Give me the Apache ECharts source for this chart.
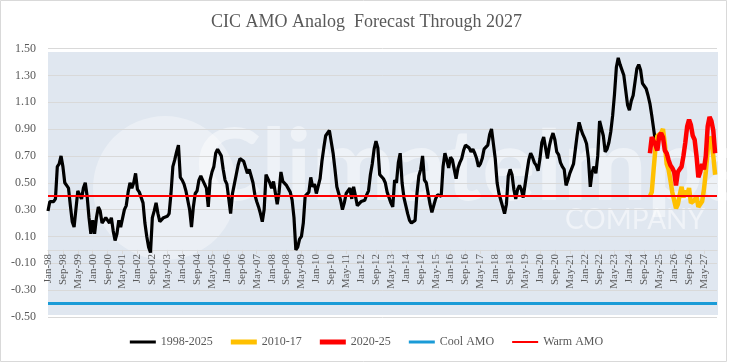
<!DOCTYPE html>
<html>
<head>
<meta charset="utf-8">
<script src="https://cdn.jsdelivr.net/npm/echarts@6/dist/echarts.min.js"></script>
<style>html,body{margin:0;padding:0;background:#fff}#c{width:733px;height:363px}</style>
</head>
<body>
<div id="c"></div>
<script>
// ---- data ----
const monthNames = ['Jan','Feb','Mar','Apr','May','Jun','Jul','Aug','Sep','Oct','Nov','Dec'];
const firstYear = 1998, lastYear = 2027;
const categories = [];
for (let y = firstYear; y <= lastYear; y++) for (let m = 0; m < 12; m++) categories.push(monthNames[m] + '-' + String(y % 100).padStart(2, '0'));

// Observed AMO, monthly from Jan-98
const amo1998_2025 = [
0.29,0.36,0.37,0.36,0.38,0.62,0.64,0.70,0.62,0.50,0.48,0.46,
0.33,0.21,0.17,0.17,0.44,0.41,0.38,0.46,0.50,0.40,0.24,0.12,
0.22,0.12,0.24,0.32,0.29,0.20,0.22,0.24,0.22,0.20,0.24,0.14,
0.07,0.12,0.22,0.17,0.18,0.30,0.33,0.43,0.50,0.46,0.50,0.57,
0.45,0.43,0.42,0.35,0.20,0.10,0.02,-0.02,0.24,0.29,0.35,0.27,
0.21,0.22,0.24,0.23,0.25,0.27,0.42,0.62,0.67,0.73,0.78,0.54,
0.52,0.49,0.44,0.37,0.30,0.17,0.32,0.42,0.44,0.52,0.55,0.52,
0.51,0.46,0.32,0.52,0.58,0.62,0.72,0.75,0.75,0.70,0.60,0.52,
0.49,0.38,0.27,0.42,0.49,0.56,0.63,0.68,0.68,0.66,0.66,0.57,
0.60,0.55,0.50,0.41,0.36,0.32,0.27,0.21,0.30,0.56,0.55,0.50,
0.46,0.51,0.52,0.34,0.43,0.58,0.51,0.51,0.48,0.48,0.43,0.37,
0.24,0.00,0.02,0.08,0.10,0.20,0.40,0.41,0.43,0.54,0.47,0.49,
0.42,0.42,0.53,0.66,0.76,0.85,0.86,0.89,0.88,0.72,0.60,0.47,
0.42,0.37,0.30,0.35,0.42,0.42,0.46,0.38,0.47,0.46,0.33,0.34,
0.36,0.35,0.37,0.41,0.44,0.56,0.64,0.75,0.81,0.76,0.56,0.55,
0.53,0.50,0.43,0.39,0.35,0.32,0.52,0.50,0.65,0.72,0.50,0.39,
0.33,0.27,0.22,0.20,0.20,0.22,0.42,0.55,0.60,0.70,0.52,0.50,
0.42,0.34,0.28,0.28,0.38,0.41,0.40,0.40,0.62,0.72,0.67,0.61,
0.69,0.67,0.60,0.53,0.61,0.65,0.68,0.74,0.78,0.77,0.76,0.73,
0.75,0.72,0.68,0.62,0.64,0.68,0.75,0.76,0.78,0.86,0.90,0.90,
0.68,0.50,0.42,0.37,0.32,0.27,0.34,0.55,0.60,0.56,0.45,0.38,
0.45,0.48,0.45,0.39,0.38,0.58,0.67,0.72,0.69,0.65,0.63,0.59,
0.68,0.80,0.84,0.85,0.68,0.77,0.83,0.87,0.82,0.73,0.71,0.65,
0.62,0.60,0.48,0.52,0.57,0.58,0.64,0.75,0.86,0.95,0.90,0.86,
0.83,0.79,0.68,0.47,0.58,0.62,0.57,0.70,0.96,0.95,0.85,0.73,
0.75,0.80,0.88,1.00,1.16,1.36,1.43,1.38,1.39,1.30,1.19,1.08,
1.04,1.11,1.15,1.16,1.35,1.38,1.34,1.24,1.24,1.20,1.15,1.09,
1.00,0.90,0.80
];

// Analog forecasts, monthly from Dec-24 through Dec-27
const forecastStart = 'Dec-24';
const analog2010_17 = [
0.40,0.43,0.60,0.76,0.85,0.84,0.87,0.90,0.79,0.64,0.60,0.52,
0.43,0.37,0.31,0.34,0.41,0.47,0.39,0.44,0.41,0.46,0.35,0.34,
0.37,0.40,0.32,0.32,0.36,0.45,0.58,0.74,0.84,0.82,0.70,0.56
];
const analog2020_25 = [
0.72,0.84,0.85,0.78,0.74,0.85,0.87,0.84,0.74,0.72,0.67,0.63,
0.61,0.58,0.48,0.58,0.60,0.62,0.70,0.80,0.92,0.97,0.93,0.85,
0.82,0.70,0.54,0.58,0.64,0.60,0.70,0.92,0.99,0.96,0.89,0.72
];

const coolAMO = -0.40;
const warmAMO = 0.40;

const yTicks = { min: -0.5, max: 1.5, step: 0.2 };

// ---- build ----
function pad(arr, startIdx) {
  const out = new Array(categories.length).fill(null);
  arr.forEach((v, k) => { out[startIdx + k] = v; });
  return out;
}
const fStart = categories.indexOf(forecastStart);
const serif = '"Liberation Serif", "Times New Roman", serif';
const grey = '#595959';

const gridTop = 48.5, gridBottom = 46, H = 363;
const gridH = H - gridTop - gridBottom;
// place the category axis where the value axis crosses zero
const zeroOffset = -gridH * (0 - yTicks.min) / (yTicks.max - yTicks.min);

const chart = echarts.init(document.getElementById('c'), null, { renderer: 'canvas' });
chart.setOption({
  animation: false,
  backgroundColor: '#fff',
  title: {
    text: 'CIC AMO Analog  Forecast Through 2027',
    left: 'center', top: 8,
    textStyle: { fontFamily: serif, fontSize: 18, fontWeight: 'normal', color: grey }
  },
  graphic: [
    { type: 'rect', z: -10, silent: true, shape: { x: 0.5, y: 0.5, width: 726, height: 361 },
      style: { fill: 'none', stroke: '#d9d9d9', lineWidth: 1 } },
    { type: 'rect', z: -9, silent: true, shape: { x: 48, y: 52, width: 670, height: 263 },
      style: { fill: '#e0e7f0' } },
    { type: 'circle', z: -8, silent: true, shape: { cx: 165, cy: 188, r: 72 },
      style: { fill: 'rgba(255,255,255,0.35)' } },
    { type: 'text', z: -8, silent: true, left: 195, top: 118,
      style: { text: 'ClimateImpact', fontFamily: 'Lato, sans-serif', fontSize: 100, fontWeight: 'bold', fill: 'rgba(255,255,255,0.45)' } },
    { type: 'text', z: -8, silent: true, left: 565, top: 206,
      style: { text: 'COMPANY', fontFamily: 'Lato, sans-serif', fontSize: 28, fill: 'rgba(255,255,255,0.5)' } }
  ],
  legend: {
    bottom: 10, left: 'center',
    itemWidth: 26, itemHeight: 12, itemGap: 18,
    textStyle: { fontFamily: serif, fontSize: 12, color: grey },
    data: [
      { name: '1998-2025', icon: 'path://M0,0h26v3h-26z' },
      { name: '2010-17', icon: 'path://M0,0h26v5h-26z' },
      { name: '2020-25', icon: 'path://M0,0h26v5h-26z' },
      { name: 'Cool AMO', icon: 'path://M0,0h26v3h-26z' },
      { name: 'Warm AMO', icon: 'path://M0,0h26v2h-26z' }
    ]
  },
  grid: { left: 48, right: 16, top: gridTop, bottom: gridBottom, containLabel: false },
  xAxis: {
    type: 'category', data: categories, boundaryGap: false, offset: zeroOffset,
    axisLine: { onZero: false, lineStyle: { color: '#d9d9d9', width: 1 } },
    axisTick: { show: true, interval: 7, length: 4, lineStyle: { color: '#d9d9d9' } },
    axisLabel: { interval: 7, rotate: 90, fontFamily: serif, fontSize: 11, color: grey, margin: 4 },
    splitLine: { show: false }
  },
  yAxis: {
    type: 'value', min: yTicks.min, max: yTicks.max, interval: yTicks.step,
    axisLine: { show: false }, axisTick: { show: false },
    axisLabel: { fontFamily: serif, fontSize: 12, color: grey, margin: 12, formatter: v => v.toFixed(2) },
    splitLine: { lineStyle: { color: '#d9d9d9', width: 1 } }
  },
  series: [
    { name: '1998-2025', type: 'line', data: pad(amo1998_2025, 0), showSymbol: false, symbol: 'none',
      lineStyle: { color: '#000', width: 3.2 }, itemStyle: { color: '#000' }, z: 3 },
    { name: '2010-17', type: 'line', data: pad(analog2010_17, fStart), showSymbol: false, symbol: 'none',
      lineStyle: { color: '#ffc000', width: 4.5 }, itemStyle: { color: '#ffc000' }, z: 4 },
    { name: '2020-25', type: 'line', data: pad(analog2020_25, fStart), showSymbol: false, symbol: 'none',
      lineStyle: { color: '#ff0000', width: 4.5 }, itemStyle: { color: '#ff0000' }, z: 5 },
    { name: 'Cool AMO', type: 'line', data: [], symbol: 'none', z: 6,
      lineStyle: { color: '#1a9bd7', width: 3 }, itemStyle: { color: '#1a9bd7' },
      markLine: { silent: true, symbol: 'none', label: { show: false },
        lineStyle: { color: '#1a9bd7', width: 3, type: 'solid' }, data: [{ yAxis: coolAMO }] } },
    { name: 'Warm AMO', type: 'line', data: [], symbol: 'none', z: 6,
      lineStyle: { color: '#ff0000', width: 2 }, itemStyle: { color: '#ff0000' },
      markLine: { silent: true, symbol: 'none', label: { show: false },
        lineStyle: { color: '#ff0000', width: 2, type: 'solid' }, data: [{ yAxis: warmAMO }] } }
  ]
});
</script>
</body>
</html>
